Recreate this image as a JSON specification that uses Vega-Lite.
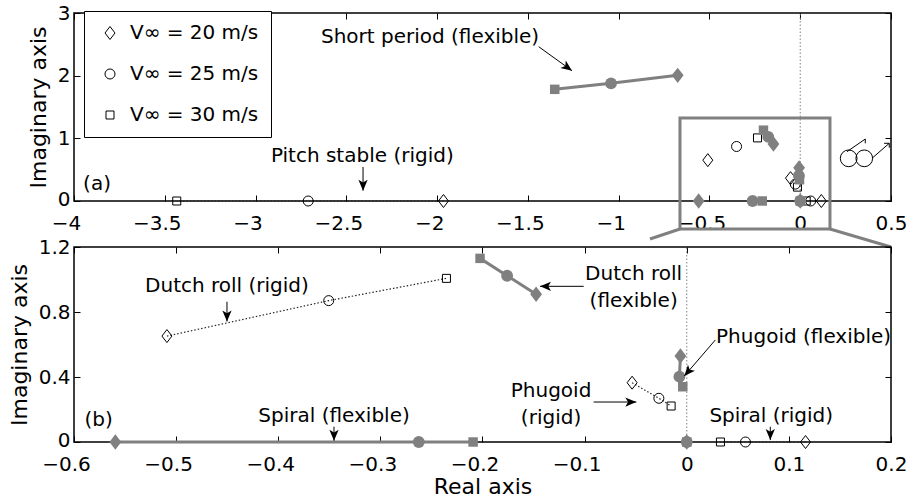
{
  "$schema": "https://vega.github.io/schema/vega-lite/v6.json",
  "padding": {"left": 7, "top": 2, "right": 0, "bottom": 0},
  "autosize": {"type": "pad"},
  "bounds": "flush",
  "spacing": 46,
  "resolve": {"scale": {"shape": "independent"}, "legend": {"shape": "independent"}},
  "config": {
    "font": "DejaVu Sans",
    "view": {"stroke": "black", "strokeWidth": 1.5},
    "axis": {"labelFont": "DejaVu Sans", "labelFontSize": 20, "labelColor": "black", "titleFont": "DejaVu Sans", "titleFontSize": 22, "titleFontWeight": "normal", "titleColor": "black", "tickColor": "black", "tickWidth": 1, "tickSize": -6, "domain": false, "grid": false, "labelFlush": false, "labelOverlap": false},
    "text": {"font": "DejaVu Sans", "fontSize": 20}
  },
  "datasets": {
    "poles": [
      {"mode": "pitch", "model": "rigid", "speed": 20, "re": -1.965, "im": 0},
      {"mode": "pitch", "model": "rigid", "speed": 25, "re": -2.71, "im": 0},
      {"mode": "pitch", "model": "rigid", "speed": 30, "re": -3.434, "im": 0},
      {"mode": "dutch", "model": "rigid", "speed": 20, "re": -0.509, "im": 0.652},
      {"mode": "dutch", "model": "rigid", "speed": 25, "re": -0.3506, "im": 0.87},
      {"mode": "dutch", "model": "rigid", "speed": 30, "re": -0.2353, "im": 1.007},
      {"mode": "phugoid", "model": "rigid", "speed": 20, "re": -0.0535, "im": 0.365},
      {"mode": "phugoid", "model": "rigid", "speed": 25, "re": -0.0273, "im": 0.269},
      {"mode": "phugoid", "model": "rigid", "speed": 30, "re": -0.0153, "im": 0.2215},
      {"mode": "spiral", "model": "rigid", "speed": 20, "re": 0.1163, "im": 0},
      {"mode": "spiral", "model": "rigid", "speed": 25, "re": 0.0575, "im": 0},
      {"mode": "spiral", "model": "rigid", "speed": 30, "re": 0.033, "im": 0},
      {"mode": "short", "model": "flexible", "speed": 20, "re": -0.675, "im": 2.005},
      {"mode": "short", "model": "flexible", "speed": 25, "re": -1.042, "im": 1.878},
      {"mode": "short", "model": "flexible", "speed": 30, "re": -1.352, "im": 1.782},
      {"mode": "dutch", "model": "flexible", "speed": 20, "re": -0.1475, "im": 0.909},
      {"mode": "dutch", "model": "flexible", "speed": 25, "re": -0.1759, "im": 1.023},
      {"mode": "dutch", "model": "flexible", "speed": 30, "re": -0.2024, "im": 1.13},
      {"mode": "phugoid", "model": "flexible", "speed": 20, "re": -0.0062, "im": 0.529},
      {"mode": "phugoid", "model": "flexible", "speed": 25, "re": -0.0072, "im": 0.402},
      {"mode": "phugoid", "model": "flexible", "speed": 30, "re": -0.0039, "im": 0.34},
      {"mode": "spiral", "model": "flexible", "speed": 20, "re": -0.5595, "im": 0},
      {"mode": "spiral", "model": "flexible", "speed": 25, "re": -0.2624, "im": 0},
      {"mode": "spiral", "model": "flexible", "speed": 30, "re": -0.2092, "im": 0},
      {"mode": "zero", "model": "flexible", "speed": 20, "re": 0, "im": 0},
      {"mode": "zero", "model": "flexible", "speed": 25, "re": 0, "im": 0},
      {"mode": "zero", "model": "flexible", "speed": 30, "re": 0, "im": 0}
    ],
    "zero": [
      {"panel": "a", "re": 0, "lo": 0, "hi": 3},
      {"panel": "b", "re": 0, "lo": 0, "hi": 1.2}
    ],
    "notes": [
      {"panel": "a", "tx": -2.039, "ty": 2.526, "label": "Short period (flexible)"},
      {"panel": "a", "tx": -2.412, "ty": 0.618, "label": "Pitch stable (rigid)"},
      {"panel": "a", "tx": -3.873, "ty": 0.176, "label": "(a)"},
      {"panel": "b", "tx": -0.4502, "ty": 0.925, "label": "Dutch roll (rigid)"},
      {"panel": "b", "tx": -0.3454, "ty": 0.125, "label": "Spiral (flexible)"},
      {"panel": "b", "tx": -0.5758, "ty": 0.098, "label": "(b)"},
      {"panel": "b", "tx": -0.052, "ty": 0.997, "label": "Dutch roll"},
      {"panel": "b", "tx": -0.052, "ty": 0.829, "label": "(flexible)"},
      {"panel": "b", "tx": 0.1144, "ty": 0.611, "label": "Phugoid (flexible)"},
      {"panel": "b", "tx": -0.1329, "ty": 0.275, "label": "Phugoid"},
      {"panel": "b", "tx": -0.1329, "ty": 0.109, "label": "(rigid)"},
      {"panel": "b", "tx": 0.0827, "ty": 0.125, "label": "Spiral (rigid)"}
    ],
    "arrows": [
      {"panel": "a", "dir": "down", "x1": -2.408, "y1": 0.543, "x2": -2.408, "y2": 0.165},
      {"panel": "a", "dir": "dr", "x1": -1.4405, "y1": 2.462, "x2": -1.257, "y2": 2.079},
      {"panel": "b", "dir": "down", "x1": -0.4502, "y1": 0.863, "x2": -0.4502, "y2": 0.742},
      {"panel": "b", "dir": "down", "x1": -0.3454, "y1": 0.094, "x2": -0.3454, "y2": 0.008},
      {"panel": "b", "dir": "down", "x1": 0.0818, "y1": 0.094, "x2": 0.0818, "y2": 0.012},
      {"panel": "b", "dir": "left", "x1": -0.1009, "y1": 0.958, "x2": -0.1437, "y2": 0.958},
      {"panel": "b", "dir": "right", "x1": -0.0912, "y1": 0.246, "x2": -0.0494, "y2": 0.246},
      {"panel": "b", "dir": "dl", "x1": 0.028, "y1": 0.628, "x2": -0.0024, "y2": 0.406}
    ],
    "frame": [
      {"x1": -0.6623, "x2": 0.1639, "y1": -0.447, "y2": 1.324}
    ],
    "links": [
      {"x1": -0.6623, "y1": -0.447, "x2": -0.8275, "y2": -0.606},
      {"x1": 0.1639, "y1": -0.447, "x2": 0.5, "y2": -0.734}
    ],
    "glassSeg": [
      {"x1": 0.2575, "y1": 0.787, "x2": 0.3583, "y2": 0.989},
      {"x1": 0.3583, "y1": 0.989, "x2": 0.3583, "y2": 0.921},
      {"x1": 0.3951, "y1": 0.681, "x2": 0.4904, "y2": 0.921},
      {"x1": 0.4904, "y1": 0.921, "x2": 0.462, "y2": 0.921},
      {"x1": 0.4904, "y1": 0.921, "x2": 0.4904, "y2": 0.85}
    ],
    "glassRing": [
      {"re": 0.2669, "im": 0.681},
      {"re": 0.3527, "im": 0.681}
    ]
  },
  "vconcat": [
    {
      "width": 817,
      "height": 188,
      "resolve": {"axis": {"x": "independent", "y": "independent"}},
      "layer": [
        {
          "data": {"name": "zero"},
          "transform": [{"filter": "datum.panel == 'a'"}],
          "mark": {"type": "rule", "stroke": "#808080", "strokeWidth": 1, "strokeDash": [1.5, 2]},
          "encoding": {
            "x": {"field": "re", "type": "quantitative", "scale": {"domain": [-4, 0.5], "nice": false, "zero": false},
              "axis": {"orient": "bottom", "title": null, "values": [-4, -3.5, -3, -2.5, -2, -1.5, -1, -0.5, 0, 0.5], "format": "~g", "labelPadding": 18, "labelOffset": {"condition": {"test": "datum.value < 0", "value": -8}, "value": 0}}},
            "y": {"field": "lo", "type": "quantitative", "scale": {"domain": [0, 3], "nice": false, "zero": false},
              "axis": {"orient": "left", "title": "Imaginary axis", "values": [0, 1, 2, 3], "format": "~g", "labelPadding": 10, "titlePadding": 7, "labelOffset": {"condition": {"test": "datum.value == 0", "value": -2}, "value": 0}}},
            "y2": {"field": "hi"}
          }
        },
        {
          "data": {"name": "frame"},
          "mark": {"type": "rect", "fill": "white", "fillOpacity": 0, "stroke": "#808080", "strokeWidth": 3},
          "encoding": {
            "x": {"field": "x1", "type": "quantitative", "scale": {"domain": [-4, 0.5], "nice": false, "zero": false}, "axis": null},
            "x2": {"field": "x2"},
            "y": {"field": "y1", "type": "quantitative", "scale": {"domain": [0, 3], "nice": false, "zero": false}, "axis": null},
            "y2": {"field": "y2"}
          }
        },
        {
          "data": {"name": "links"},
          "mark": {"type": "rule", "stroke": "#808080", "strokeWidth": 3},
          "encoding": {
            "x": {"field": "x1", "type": "quantitative", "scale": {"domain": [-4, 0.5], "nice": false, "zero": false}, "axis": null},
            "x2": {"field": "x2"},
            "y": {"field": "y1", "type": "quantitative", "scale": {"domain": [0, 3], "nice": false, "zero": false}, "axis": null},
            "y2": {"field": "y2"}
          }
        },
        {
          "data": {"name": "glassSeg"},
          "mark": {"type": "rule", "stroke": "black", "strokeWidth": 1},
          "encoding": {
            "x": {"field": "x1", "type": "quantitative", "scale": {"domain": [-4, 0.5], "nice": false, "zero": false}, "axis": null},
            "x2": {"field": "x2"},
            "y": {"field": "y1", "type": "quantitative", "scale": {"domain": [0, 3], "nice": false, "zero": false}, "axis": null},
            "y2": {"field": "y2"}
          }
        },
        {
          "data": {"name": "glassRing"},
          "mark": {"type": "point", "shape": "circle", "filled": false, "color": "black", "strokeWidth": 1, "size": 280, "opacity": 1},
          "encoding": {
            "x": {"field": "re", "type": "quantitative", "scale": {"domain": [-4, 0.5], "nice": false, "zero": false}, "axis": null},
            "y": {"field": "im", "type": "quantitative", "scale": {"domain": [0, 3], "nice": false, "zero": false}, "axis": null}
          }
        },
        {
          "data": {"name": "poles"},
          "transform": [{"filter": "datum.mode == 'pitch'"}],
          "mark": {"type": "line", "stroke": "#222222", "strokeWidth": 1.2, "strokeDash": [1.5, 2]},
          "encoding": {
            "x": {"field": "re", "type": "quantitative", "scale": {"domain": [-4, 0.5], "nice": false, "zero": false}, "axis": null},
            "y": {"field": "im", "type": "quantitative", "scale": {"domain": [0, 3], "nice": false, "zero": false}, "axis": null},
            "detail": {"field": "mode"},
            "order": {"field": "speed"}
          }
        },
        {
          "data": {"name": "poles"},
          "transform": [{"filter": "datum.mode == 'short'"}],
          "mark": {"type": "line", "stroke": "#808080", "strokeWidth": 3},
          "encoding": {
            "x": {"field": "re", "type": "quantitative", "scale": {"domain": [-4, 0.5], "nice": false, "zero": false}, "axis": null},
            "y": {"field": "im", "type": "quantitative", "scale": {"domain": [0, 3], "nice": false, "zero": false}, "axis": null},
            "detail": {"field": "mode"},
            "order": {"field": "speed"}
          }
        },
        {
          "data": {"name": "poles"},
          "transform": [{"filter": "datum.model == 'rigid'"}],
          "mark": {"type": "point", "filled": false, "color": "black", "strokeWidth": 1, "size": 100, "opacity": 1},
          "encoding": {
            "x": {"field": "re", "type": "quantitative", "scale": {"domain": [-4, 0.5], "nice": false, "zero": false},
              "axis": {"orient": "top", "title": null, "labels": false, "values": [-4, -3.5, -3, -2.5, -2, -1.5, -1, -0.5, 0, 0.5]}},
            "y": {"field": "im", "type": "quantitative", "scale": {"domain": [0, 3], "nice": false, "zero": false},
              "axis": {"orient": "right", "title": null, "labels": false, "values": [0, 1, 2, 3]}},
            "shape": {"field": "speed", "type": "nominal",
              "scale": {"domain": [20, 25, 30], "range": ["M0,-1.3L1,0L0,1.3L-1,0Z", "circle", "M-0.8,-0.8L0.8,-0.8L0.8,0.8L-0.8,0.8Z"]},
              "legend": {"title": null, "orient": "none", "legendX": 10, "legendY": -2, "labelExpr": "'V∞ = ' + datum.label + ' m/s'", "labelFont": "DejaVu Sans", "labelFontSize": 20, "labelColor": "black", "symbolSize": 100, "symbolStrokeWidth": 1, "symbolStrokeColor": "black", "symbolFillColor": "white", "strokeColor": "black", "fillColor": "white", "padding": 12, "rowPadding": 21, "labelOffset": 10, "symbolOffset": 4}}
          }
        },
        {
          "data": {"name": "poles"},
          "transform": [{"filter": "datum.model == 'flexible'"}],
          "mark": {"type": "point", "filled": true, "color": "#808080", "size": 140, "opacity": 1},
          "encoding": {
            "x": {"field": "re", "type": "quantitative", "scale": {"domain": [-4, 0.5], "nice": false, "zero": false}, "axis": null},
            "y": {"field": "im", "type": "quantitative", "scale": {"domain": [0, 3], "nice": false, "zero": false}, "axis": null},
            "shape": {"field": "speed", "type": "nominal", "legend": null}
          }
        },
        {
          "data": {"name": "notes"},
          "transform": [{"filter": "datum.panel == 'a'"}],
          "mark": {"type": "text", "align": "center", "baseline": "alphabetic", "fontSize": 20, "color": "black"},
          "encoding": {
            "x": {"field": "tx", "type": "quantitative", "scale": {"domain": [-4, 0.5], "nice": false, "zero": false}, "axis": null},
            "y": {"field": "ty", "type": "quantitative", "scale": {"domain": [0, 3], "nice": false, "zero": false}, "axis": null},
            "text": {"field": "label"}
          }
        },
        {
          "data": {"name": "arrows"},
          "transform": [{"filter": "datum.panel == 'a'"}],
          "mark": {"type": "rule", "stroke": "black", "strokeWidth": 1},
          "encoding": {
            "x": {"field": "x1", "type": "quantitative", "scale": {"domain": [-4, 0.5], "nice": false, "zero": false}, "axis": null},
            "x2": {"field": "x2"},
            "y": {"field": "y1", "type": "quantitative", "scale": {"domain": [0, 3], "nice": false, "zero": false}, "axis": null},
            "y2": {"field": "y2"}
          }
        },
        {
          "data": {"name": "arrows"},
          "transform": [{"filter": "datum.panel == 'a' && datum.dir == 'down'"}],
          "mark": {"type": "point", "shape": "M0,0L-1,-0.42L-0.75,0L-1,0.42Z", "filled": true, "color": "black", "size": 484, "angle": 90, "opacity": 1},
          "encoding": {
            "x": {"field": "x2", "type": "quantitative", "scale": {"domain": [-4, 0.5], "nice": false, "zero": false}, "axis": null},
            "y": {"field": "y2", "type": "quantitative", "scale": {"domain": [0, 3], "nice": false, "zero": false}, "axis": null}
          }
        },
        {
          "data": {"name": "arrows"},
          "transform": [{"filter": "datum.panel == 'a' && datum.dir == 'dr'"}],
          "mark": {"type": "point", "shape": "M0,0L-1,-0.42L-0.75,0L-1,0.42Z", "filled": true, "color": "black", "size": 484, "angle": 35.8, "opacity": 1},
          "encoding": {
            "x": {"field": "x2", "type": "quantitative", "scale": {"domain": [-4, 0.5], "nice": false, "zero": false}, "axis": null},
            "y": {"field": "y2", "type": "quantitative", "scale": {"domain": [0, 3], "nice": false, "zero": false}, "axis": null}
          }
        }
      ]
    },
    {
      "width": 817,
      "height": 195,
      "resolve": {"axis": {"x": "independent", "y": "independent"}},
      "layer": [
        {
          "data": {"name": "zero"},
          "transform": [{"filter": "datum.panel == 'b'"}],
          "mark": {"type": "rule", "stroke": "#808080", "strokeWidth": 1, "strokeDash": [1.5, 2]},
          "encoding": {
            "x": {"field": "re", "type": "quantitative", "scale": {"domain": [-0.6, 0.2], "nice": false, "zero": false},
              "axis": {"orient": "bottom", "title": "Real axis", "values": [-0.6, -0.5, -0.4, -0.3, -0.2, -0.1, 0, 0.1, 0.2], "format": "~g", "labelPadding": 18, "titlePadding": 2, "labelOffset": {"condition": {"test": "datum.value < 0", "value": -8}, "value": 0}}},
            "y": {"field": "lo", "type": "quantitative", "scale": {"domain": [0, 1.2], "nice": false, "zero": false},
              "axis": {"orient": "left", "title": "Imaginary axis", "values": [0, 0.4, 0.8, 1.2], "format": "~g", "labelPadding": 10, "titlePadding": 7, "labelOffset": {"condition": {"test": "datum.value == 0", "value": -2}, "value": 0}}},
            "y2": {"field": "hi"}
          }
        },
        {
          "data": {"name": "poles"},
          "transform": [{"filter": "datum.model == 'flexible' && datum.re >= -0.6 && datum.re <= 0.2 && datum.im <= 1.2"}],
          "mark": {"type": "line", "stroke": "#808080", "strokeWidth": 3},
          "encoding": {
            "x": {"field": "re", "type": "quantitative", "scale": {"domain": [-0.6, 0.2], "nice": false, "zero": false}, "axis": null},
            "y": {"field": "im", "type": "quantitative", "scale": {"domain": [0, 1.2], "nice": false, "zero": false}, "axis": null},
            "detail": {"field": "mode"},
            "order": {"field": "speed"}
          }
        },
        {
          "data": {"name": "poles"},
          "transform": [{"filter": "datum.model == 'rigid' && datum.re >= -0.6 && datum.re <= 0.2 && datum.im <= 1.2"}],
          "mark": {"type": "line", "stroke": "#222222", "strokeWidth": 1.2, "strokeDash": [1.5, 2]},
          "encoding": {
            "x": {"field": "re", "type": "quantitative", "scale": {"domain": [-0.6, 0.2], "nice": false, "zero": false}, "axis": null},
            "y": {"field": "im", "type": "quantitative", "scale": {"domain": [0, 1.2], "nice": false, "zero": false}, "axis": null},
            "detail": {"field": "mode"},
            "order": {"field": "speed"}
          }
        },
        {
          "data": {"name": "poles"},
          "transform": [{"filter": "datum.model == 'rigid' && datum.re >= -0.6 && datum.re <= 0.2 && datum.im <= 1.2"}],
          "mark": {"type": "point", "filled": false, "color": "black", "strokeWidth": 1, "size": 100, "opacity": 1},
          "encoding": {
            "x": {"field": "re", "type": "quantitative", "scale": {"domain": [-0.6, 0.2], "nice": false, "zero": false},
              "axis": {"orient": "top", "title": null, "labels": false, "values": [-0.6, -0.5, -0.4, -0.3, -0.2, -0.1, 0, 0.1, 0.2]}},
            "y": {"field": "im", "type": "quantitative", "scale": {"domain": [0, 1.2], "nice": false, "zero": false},
              "axis": {"orient": "right", "title": null, "labels": false, "values": [0, 0.4, 0.8, 1.2]}},
            "shape": {"field": "speed", "type": "nominal",
              "scale": {"domain": [20, 25, 30], "range": ["M0,-1.3L1,0L0,1.3L-1,0Z", "circle", "M-0.8,-0.8L0.8,-0.8L0.8,0.8L-0.8,0.8Z"]},
              "legend": null}
          }
        },
        {
          "data": {"name": "poles"},
          "transform": [{"filter": "datum.model == 'flexible' && datum.re >= -0.6 && datum.re <= 0.2 && datum.im <= 1.2"}],
          "mark": {"type": "point", "filled": true, "color": "#808080", "size": 140, "opacity": 1},
          "encoding": {
            "x": {"field": "re", "type": "quantitative", "scale": {"domain": [-0.6, 0.2], "nice": false, "zero": false}, "axis": null},
            "y": {"field": "im", "type": "quantitative", "scale": {"domain": [0, 1.2], "nice": false, "zero": false}, "axis": null},
            "shape": {"field": "speed", "type": "nominal", "legend": null}
          }
        },
        {
          "data": {"name": "notes"},
          "transform": [{"filter": "datum.panel == 'b'"}],
          "mark": {"type": "text", "align": "center", "baseline": "alphabetic", "fontSize": 20, "color": "black"},
          "encoding": {
            "x": {"field": "tx", "type": "quantitative", "scale": {"domain": [-0.6, 0.2], "nice": false, "zero": false}, "axis": null},
            "y": {"field": "ty", "type": "quantitative", "scale": {"domain": [0, 1.2], "nice": false, "zero": false}, "axis": null},
            "text": {"field": "label"}
          }
        },
        {
          "data": {"name": "arrows"},
          "transform": [{"filter": "datum.panel == 'b'"}],
          "mark": {"type": "rule", "stroke": "black", "strokeWidth": 1},
          "encoding": {
            "x": {"field": "x1", "type": "quantitative", "scale": {"domain": [-0.6, 0.2], "nice": false, "zero": false}, "axis": null},
            "x2": {"field": "x2"},
            "y": {"field": "y1", "type": "quantitative", "scale": {"domain": [0, 1.2], "nice": false, "zero": false}, "axis": null},
            "y2": {"field": "y2"}
          }
        },
        {
          "data": {"name": "arrows"},
          "transform": [{"filter": "datum.panel == 'b' && datum.dir == 'down'"}],
          "mark": {"type": "point", "shape": "M0,0L-1,-0.42L-0.75,0L-1,0.42Z", "filled": true, "color": "black", "size": 484, "angle": 90, "opacity": 1},
          "encoding": {
            "x": {"field": "x2", "type": "quantitative", "scale": {"domain": [-0.6, 0.2], "nice": false, "zero": false}, "axis": null},
            "y": {"field": "y2", "type": "quantitative", "scale": {"domain": [0, 1.2], "nice": false, "zero": false}, "axis": null}
          }
        },
        {
          "data": {"name": "arrows"},
          "transform": [{"filter": "datum.panel == 'b' && datum.dir == 'left'"}],
          "mark": {"type": "point", "shape": "M0,0L-1,-0.42L-0.75,0L-1,0.42Z", "filled": true, "color": "black", "size": 484, "angle": 180, "opacity": 1},
          "encoding": {
            "x": {"field": "x2", "type": "quantitative", "scale": {"domain": [-0.6, 0.2], "nice": false, "zero": false}, "axis": null},
            "y": {"field": "y2", "type": "quantitative", "scale": {"domain": [0, 1.2], "nice": false, "zero": false}, "axis": null}
          }
        },
        {
          "data": {"name": "arrows"},
          "transform": [{"filter": "datum.panel == 'b' && datum.dir == 'right'"}],
          "mark": {"type": "point", "shape": "M0,0L-1,-0.42L-0.75,0L-1,0.42Z", "filled": true, "color": "black", "size": 484, "angle": 0, "opacity": 1},
          "encoding": {
            "x": {"field": "x2", "type": "quantitative", "scale": {"domain": [-0.6, 0.2], "nice": false, "zero": false}, "axis": null},
            "y": {"field": "y2", "type": "quantitative", "scale": {"domain": [0, 1.2], "nice": false, "zero": false}, "axis": null}
          }
        },
        {
          "data": {"name": "arrows"},
          "transform": [{"filter": "datum.panel == 'b' && datum.dir == 'dl'"}],
          "mark": {"type": "point", "shape": "M0,0L-1,-0.42L-0.75,0L-1,0.42Z", "filled": true, "color": "black", "size": 484, "angle": 130.7, "opacity": 1},
          "encoding": {
            "x": {"field": "x2", "type": "quantitative", "scale": {"domain": [-0.6, 0.2], "nice": false, "zero": false}, "axis": null},
            "y": {"field": "y2", "type": "quantitative", "scale": {"domain": [0, 1.2], "nice": false, "zero": false}, "axis": null}
          }
        }
      ]
    }
  ]
}
